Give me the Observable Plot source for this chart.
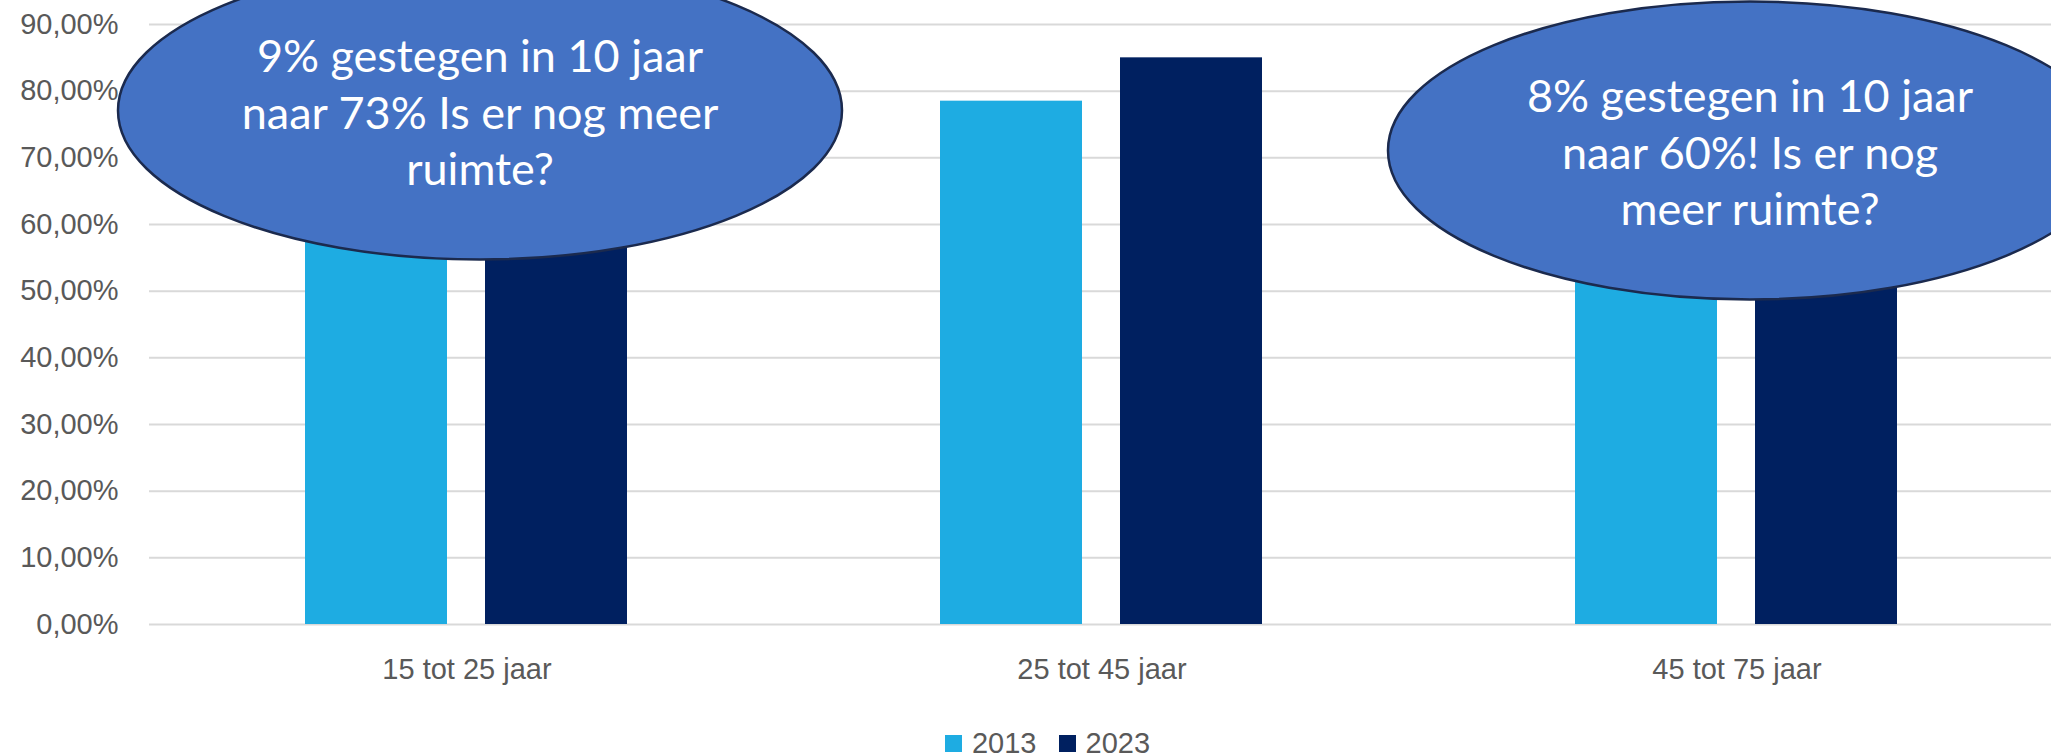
<!DOCTYPE html>
<html>
<head>
<meta charset="utf-8">
<script src="https://cdn.jsdelivr.net/npm/d3@7"></script>
<script src="https://cdn.jsdelivr.net/npm/@observablehq/plot@0.6"></script>
<style>
  html, body { margin: 0; padding: 0; background: #fff; overflow: hidden; }
  #chart svg { display: block; }
  #legend {
    width: 2051px; margin-top: 28px; height: 30px; line-height: 30px;
    font-family: 'Liberation Sans', Arial, sans-serif; font-size: 29px; color: #595959;
    display: flex; justify-content: center; align-items: center; padding-left: 44px; box-sizing: border-box;
  }
  #legend .item { display: inline-flex; align-items: center; margin: 0 11px; }
  #legend .sw { width: 17px; height: 17px; display: inline-block; margin-right: 10px; }
</style>
</head>
<body>
<div id="chart"></div>
<div id="legend"></div>
<script>
// ---- data ----
const categories = ["15 tot 25 jaar", "25 tot 45 jaar", "45 tot 75 jaar"];
const years = ["2013", "2023"];
const values2013 = [0.64, 0.785, 0.52];
const values2023 = [0.73, 0.85, 0.60];
const colors = ["#1EACE2", "#002060"];
const yTicks = [0, 0.1, 0.2, 0.3, 0.4, 0.5, 0.6, 0.7, 0.8, 0.9];
const annotationCategories = ["15 tot 25 jaar", "45 tot 75 jaar"];
const annotationValues = [0.771, 0.711];
const annotationTexts = [
  "9% gestegen in 10 jaar\nnaar 73% Is er nog meer\nruimte?",
  "8% gestegen in 10 jaar\nnaar 60%! Is er nog\nmeer ruimte?"
];

// ---- tables ----
const data = categories.flatMap((c, i) => [
  {category: c, year: years[0], value: values2013[i]},
  {category: c, year: years[1], value: values2023[i]}
]);
const notes = annotationCategories.map((c, i) => ({category: c, value: annotationValues[i], text: annotationTexts[i]}));

const nl = d3.formatLocale({decimal: ",", thousands: ".", grouping: [3], currency: ["€", ""], percent: "%"});
const fmt = nl.format(".2%");

// ellipse symbol for the callouts
const RX = 362, RY = 149, K = 0.5523;
const ellipseSymbol = {
  draw(ctx) {
    const rx = RX, ry = RY;
    ctx.moveTo(rx, 0);
    ctx.bezierCurveTo(rx, K * ry, K * rx, ry, 0, ry);
    ctx.bezierCurveTo(-K * rx, ry, -rx, K * ry, -rx, 0);
    ctx.bezierCurveTo(-rx, -K * ry, -K * rx, -ry, 0, -ry);
    ctx.bezierCurveTo(K * rx, -ry, rx, -K * ry, rx, 0);
    ctx.closePath();
  }
};

const plot = Plot.plot({
  width: 2051,
  height: 700,
  marginLeft: 148,
  marginRight: 0,
  marginTop: 24,
  marginBottom: 76,
  style: {fontFamily: "'Liberation Sans', Arial, sans-serif", fontSize: "29px", color: "#595959", background: "#fff", overflow: "hidden"},
  fx: {domain: categories, range: [148, 2055], padding: 0, label: null, axis: "bottom", tickSize: 0, tickPadding: 34},
  x: {domain: years, paddingInner: 0.211, paddingOuter: 0.8675, axis: null},
  y: {domain: [0, 0.9], ticks: yTicks, tickFormat: fmt, tickSize: 0, tickPadding: 31, label: null},
  color: {domain: years, range: colors},
  marks: [
    Plot.ruleY(yTicks, {stroke: "#d9d9d9", strokeWidth: 2}),
    Plot.barY(data, {fx: "category", x: "year", y: "value", fill: "year"}),
    Plot.dot(notes, {fx: "category", y: "value", dx: 13, r: RX, symbol: ellipseSymbol, fill: "#4472C4", stroke: "#1B2A4E", strokeWidth: 2.5}),
    Plot.text(notes, {fx: "category", y: "value", dx: 13, text: "text", fill: "white", fontSize: 45, fontFamily: "Lato", lineHeight: 1.26})
  ]
});
document.getElementById("chart").appendChild(plot);

// draw the middle facet first so both callouts sit above its gridlines
const facetGroups = plot.querySelectorAll('g[aria-label="facet"]');
if (facetGroups.length === 3) facetGroups[0].parentNode.insertBefore(facetGroups[1], facetGroups[0]);

// ---- legend ----
const legend = d3.select("#legend");
years.forEach((y, i) => {
  const item = legend.append("span").attr("class", "item");
  item.append("span").attr("class", "sw").style("background", colors[i]);
  item.append("span").text(y);
});
</script>
</body>
</html>
